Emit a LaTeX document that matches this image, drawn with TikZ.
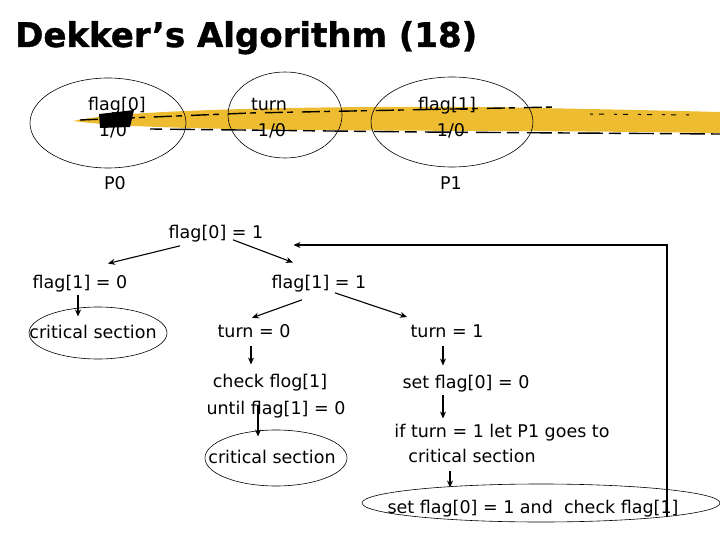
\documentclass[tikz,border=0pt]{standalone}
\usepackage{fontspec}
\setmainfont{DejaVu Sans}
\newfontfamily\titlefont{DejaVu Sans}[BoldFeatures={FakeBold=1.2}]
\usetikzlibrary{arrows.meta}
\definecolor{brush}{RGB}{238,188,48}

\begin{document}
\begin{tikzpicture}[x=1pt, y=-1pt, >={Stealth[length=7pt,width=6pt]},
  every node/.style={font=\fontsize{17.5}{21}\selectfont, inner sep=2pt, anchor=base},
  arr/.style={->, line width=1.1pt},
  ring/.style={line width=0.6pt}]
  \useasboundingbox (0,0) rectangle (720,540);

  % title
  \node[anchor=base west, inner sep=0pt, font=\fontsize{34}{40}\selectfont\titlefont\bfseries] (title) at (15,47) {Dekker’s Algorithm (18)};

  % brush stroke behind the variables
  \fill[brush] (73,121) .. controls (120,110) and (300,106) .. (480,107)
     .. controls (600,109) and (680,111) .. (720,112) -- (720,133)
     .. controls (640,132) and (560,131) .. (480,131)
     .. controls (300,130) and (140,130) .. cycle;
  \draw[line width=1.4pt, dash pattern=on 18pt off 4pt on 6pt off 9pt] (80,120) -- (250,113) -- (555,107);
  \draw[line width=1.4pt, dash pattern=on 12pt off 8pt on 25pt off 6pt] (150,129) -- (420,132) -- (720,134);
  \draw[line width=1pt, dash pattern=on 3pt off 6pt on 5pt off 10pt] (590,114) -- (690,115);
  \fill (99,114) -- (118,112) -- (134,110) -- (130,127) -- (100,128) -- cycle;

  % shared variables
  \draw[ring] (108,123) ellipse [x radius=78, y radius=45];
  \draw[ring] (285,115) ellipse [x radius=57, y radius=43];
  \draw[ring] (452,122) ellipse [x radius=81, y radius=45];
  \node (flagA) at (117,111) {flag[0]};
  \node (valA) at (113,137) {1/0};
  \node (turn) at (269,111) {turn};
  \node (valT) at (272,137) {1/0};
  \node (flagB) at (447,111) {flag[1]};
  \node (valB) at (451,137) {1/0};
  \node (procA) at (115,190) {P0};
  \node (procB) at (451,190) {P1};

  % P0 entry
  \node (setA) at (216,238) {flag[0] = 1};
  \node (otherZero) at (80,288) {flag[1] = 0};
  \node (otherOne) at (319,288) {flag[1] = 1};
  \draw[ring] (98,333) ellipse [x radius=69, y radius=26];
  \node (critA) at (93,338) {critical section};
  \node (turnZero) at (254,337) {turn = 0};
  \node (turnOne) at (447,337) {turn = 1};

  % busy wait branch
  \node (check) at (270,387) {check flog[1]};
  \node (until) at (276,414) {until flag[1] = 0};
  \draw[ring] (276,458) ellipse [x radius=71, y radius=28];
  \node (critB) at (272,463) {critical section};

  % back-off branch
  \node (clear) at (466,388) {set flag[0] = 0};
  \node (wait) at (502,437) {if turn = 1 let P1 goes to};
  \node (critC) at (472,462) {critical section};
  \draw[ring] (541,503) ellipse [x radius=179, y radius=19];
  \node (retry) at (533,513) {set flag[0] = 1 and\ \ check flag[1]};
  \coordinate (loopA) at (667,517);
  \coordinate (loopB) at (667,245);

  % arrows
  \draw[arr] ([xshift=-36pt,yshift=-2pt]setA.south) -- ([xshift=28pt,yshift=9pt]otherZero.north);
  \draw[arr] ([xshift=17pt,yshift=4pt]setA.south) -- ([xshift=-26pt,yshift=10pt]otherOne.north);
  \draw[arr] ([xshift=-2pt,yshift=-1pt]otherZero.south) -- ([xshift=-15pt,yshift=6pt]critA.north);
  \draw[arr] ([xshift=-17pt,yshift=-6pt]otherOne.south) -- ([xshift=-2pt,yshift=4pt]turnZero.north);
  \draw[arr] ([xshift=16pt,yshift=1pt]otherOne.south) -- ([xshift=-40pt,yshift=5pt]turnOne.north);
  \draw[arr] ([xshift=-3pt,yshift=-7pt]turnZero.south) -- ([xshift=-19pt,yshift=7pt]check.north);
  \draw[arr] ([xshift=-4pt,yshift=-7pt]turnOne.south) -- ([xshift=-23pt,yshift=7pt]clear.north);
  \draw[arr] ([xshift=-18pt,yshift=-6pt]until.north) -- ([xshift=-14pt,yshift=11pt]critB.north);
  \draw[arr] ([xshift=-23pt,yshift=-1pt]clear.south) -- ([xshift=-59pt,yshift=3pt]wait.north);
  \draw[arr] ([xshift=-22pt,yshift=-7pt]critC.south) -- ([xshift=-83pt,yshift=10pt]retry.north);
  \draw[arr] (loopA) -- (loopB) -- ([xshift=28pt]setA.east |- loopB);
\end{tikzpicture}
\end{document}
